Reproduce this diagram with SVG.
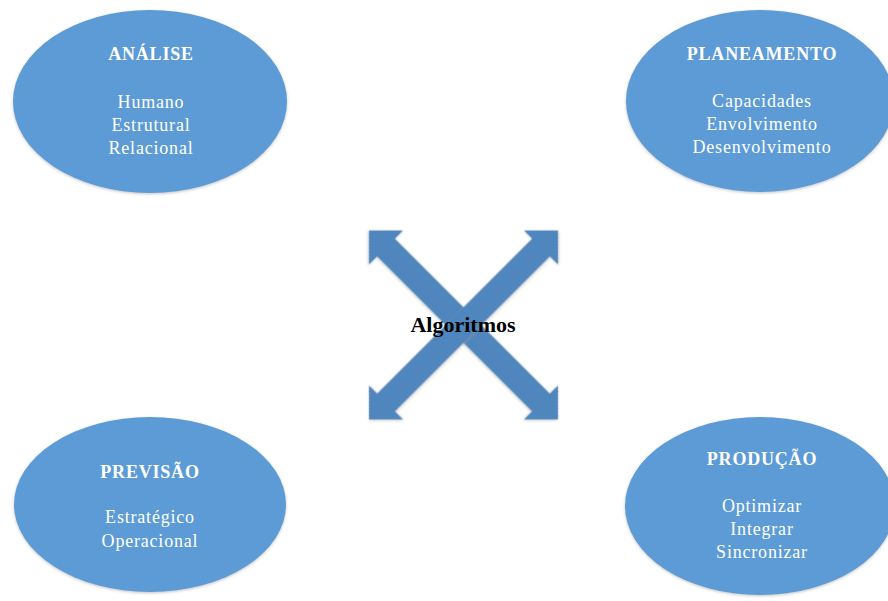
<svg xmlns="http://www.w3.org/2000/svg" width="888" height="601" viewBox="0 0 888 601">
  <defs>
    <filter id="sh" x="-10%" y="-10%" width="120%" height="120%">
      <feGaussianBlur in="SourceAlpha" stdDeviation="1.5"/>
      <feOffset dx="0" dy="1" result="b"/>
      <feFlood flood-color="#9a9a9a" flood-opacity="0.6"/>
      <feComposite in2="b" operator="in"/>
      <feMerge><feMergeNode/><feMergeNode in="SourceGraphic"/></feMerge>
    </filter>
    <path id="dbl" d="M133.6,0 L109.6,-24 L109.6,-12.5 L-109.6,-12.5 L-109.6,-24 L-133.6,0 L-109.6,24 L-109.6,12.5 L109.6,12.5 L109.6,24 Z"/>
  </defs>
  <style>
    .node ellipse { fill: #5b9bd5; filter: url(#sh); }
    .title { font-family: "Liberation Serif", "Times New Roman", serif; font-weight: bold; font-size: 18px; fill: #ffffff; text-anchor: middle; letter-spacing: 0.8px; }
    .item { font-family: "Liberation Serif", "Times New Roman", serif; font-size: 18px; fill: #ffffff; text-anchor: middle; letter-spacing: 0.8px; }
    .arrow { fill: #4f86bd; filter: url(#sh); }
    .center { font-family: "Liberation Serif", "Times New Roman", serif; font-weight: bold; font-size: 22px; fill: #000000; text-anchor: middle; }
  </style>
  <rect width="888" height="601" fill="#ffffff"/>

  <g id="connectors">
    <use href="#dbl" class="arrow" transform="translate(463.5,325) rotate(45)"/>
    <use href="#dbl" class="arrow" transform="translate(463.5,325) rotate(-45)"/>
  </g>

  <g id="algoritmos">
    <text class="center" x="463" y="332">Algoritmos</text>
  </g>

  <g id="analise" class="node">
    <ellipse cx="150" cy="101.5" rx="137" ry="91.5"/>
    <text class="title" x="151" y="60">ANÁLISE</text>
    <text class="item" x="151" y="108">Humano</text>
    <text class="item" x="151" y="131">Estrutural</text>
    <text class="item" x="151" y="154">Relacional</text>
  </g>

  <g id="planeamento" class="node">
    <ellipse cx="760" cy="101" rx="134" ry="91"/>
    <text class="title" x="762" y="60">PLANEAMENTO</text>
    <text class="item" x="762" y="107">Capacidades</text>
    <text class="item" x="762" y="130">Envolvimento</text>
    <text class="item" x="762" y="153">Desenvolvimento</text>
  </g>

  <g id="previsao" class="node">
    <ellipse cx="150" cy="504.5" rx="136" ry="87.5"/>
    <text class="title" x="150" y="478">PREVISÃO</text>
    <text class="item" x="150" y="523">Estratégico</text>
    <text class="item" x="150" y="547">Operacional</text>
  </g>

  <g id="producao" class="node">
    <ellipse cx="760" cy="506" rx="135" ry="89"/>
    <text class="title" x="762" y="465">PRODUÇÃO</text>
    <text class="item" x="762" y="512">Optimizar</text>
    <text class="item" x="762" y="535">Integrar</text>
    <text class="item" x="762" y="558">Sincronizar</text>
  </g>
</svg>
